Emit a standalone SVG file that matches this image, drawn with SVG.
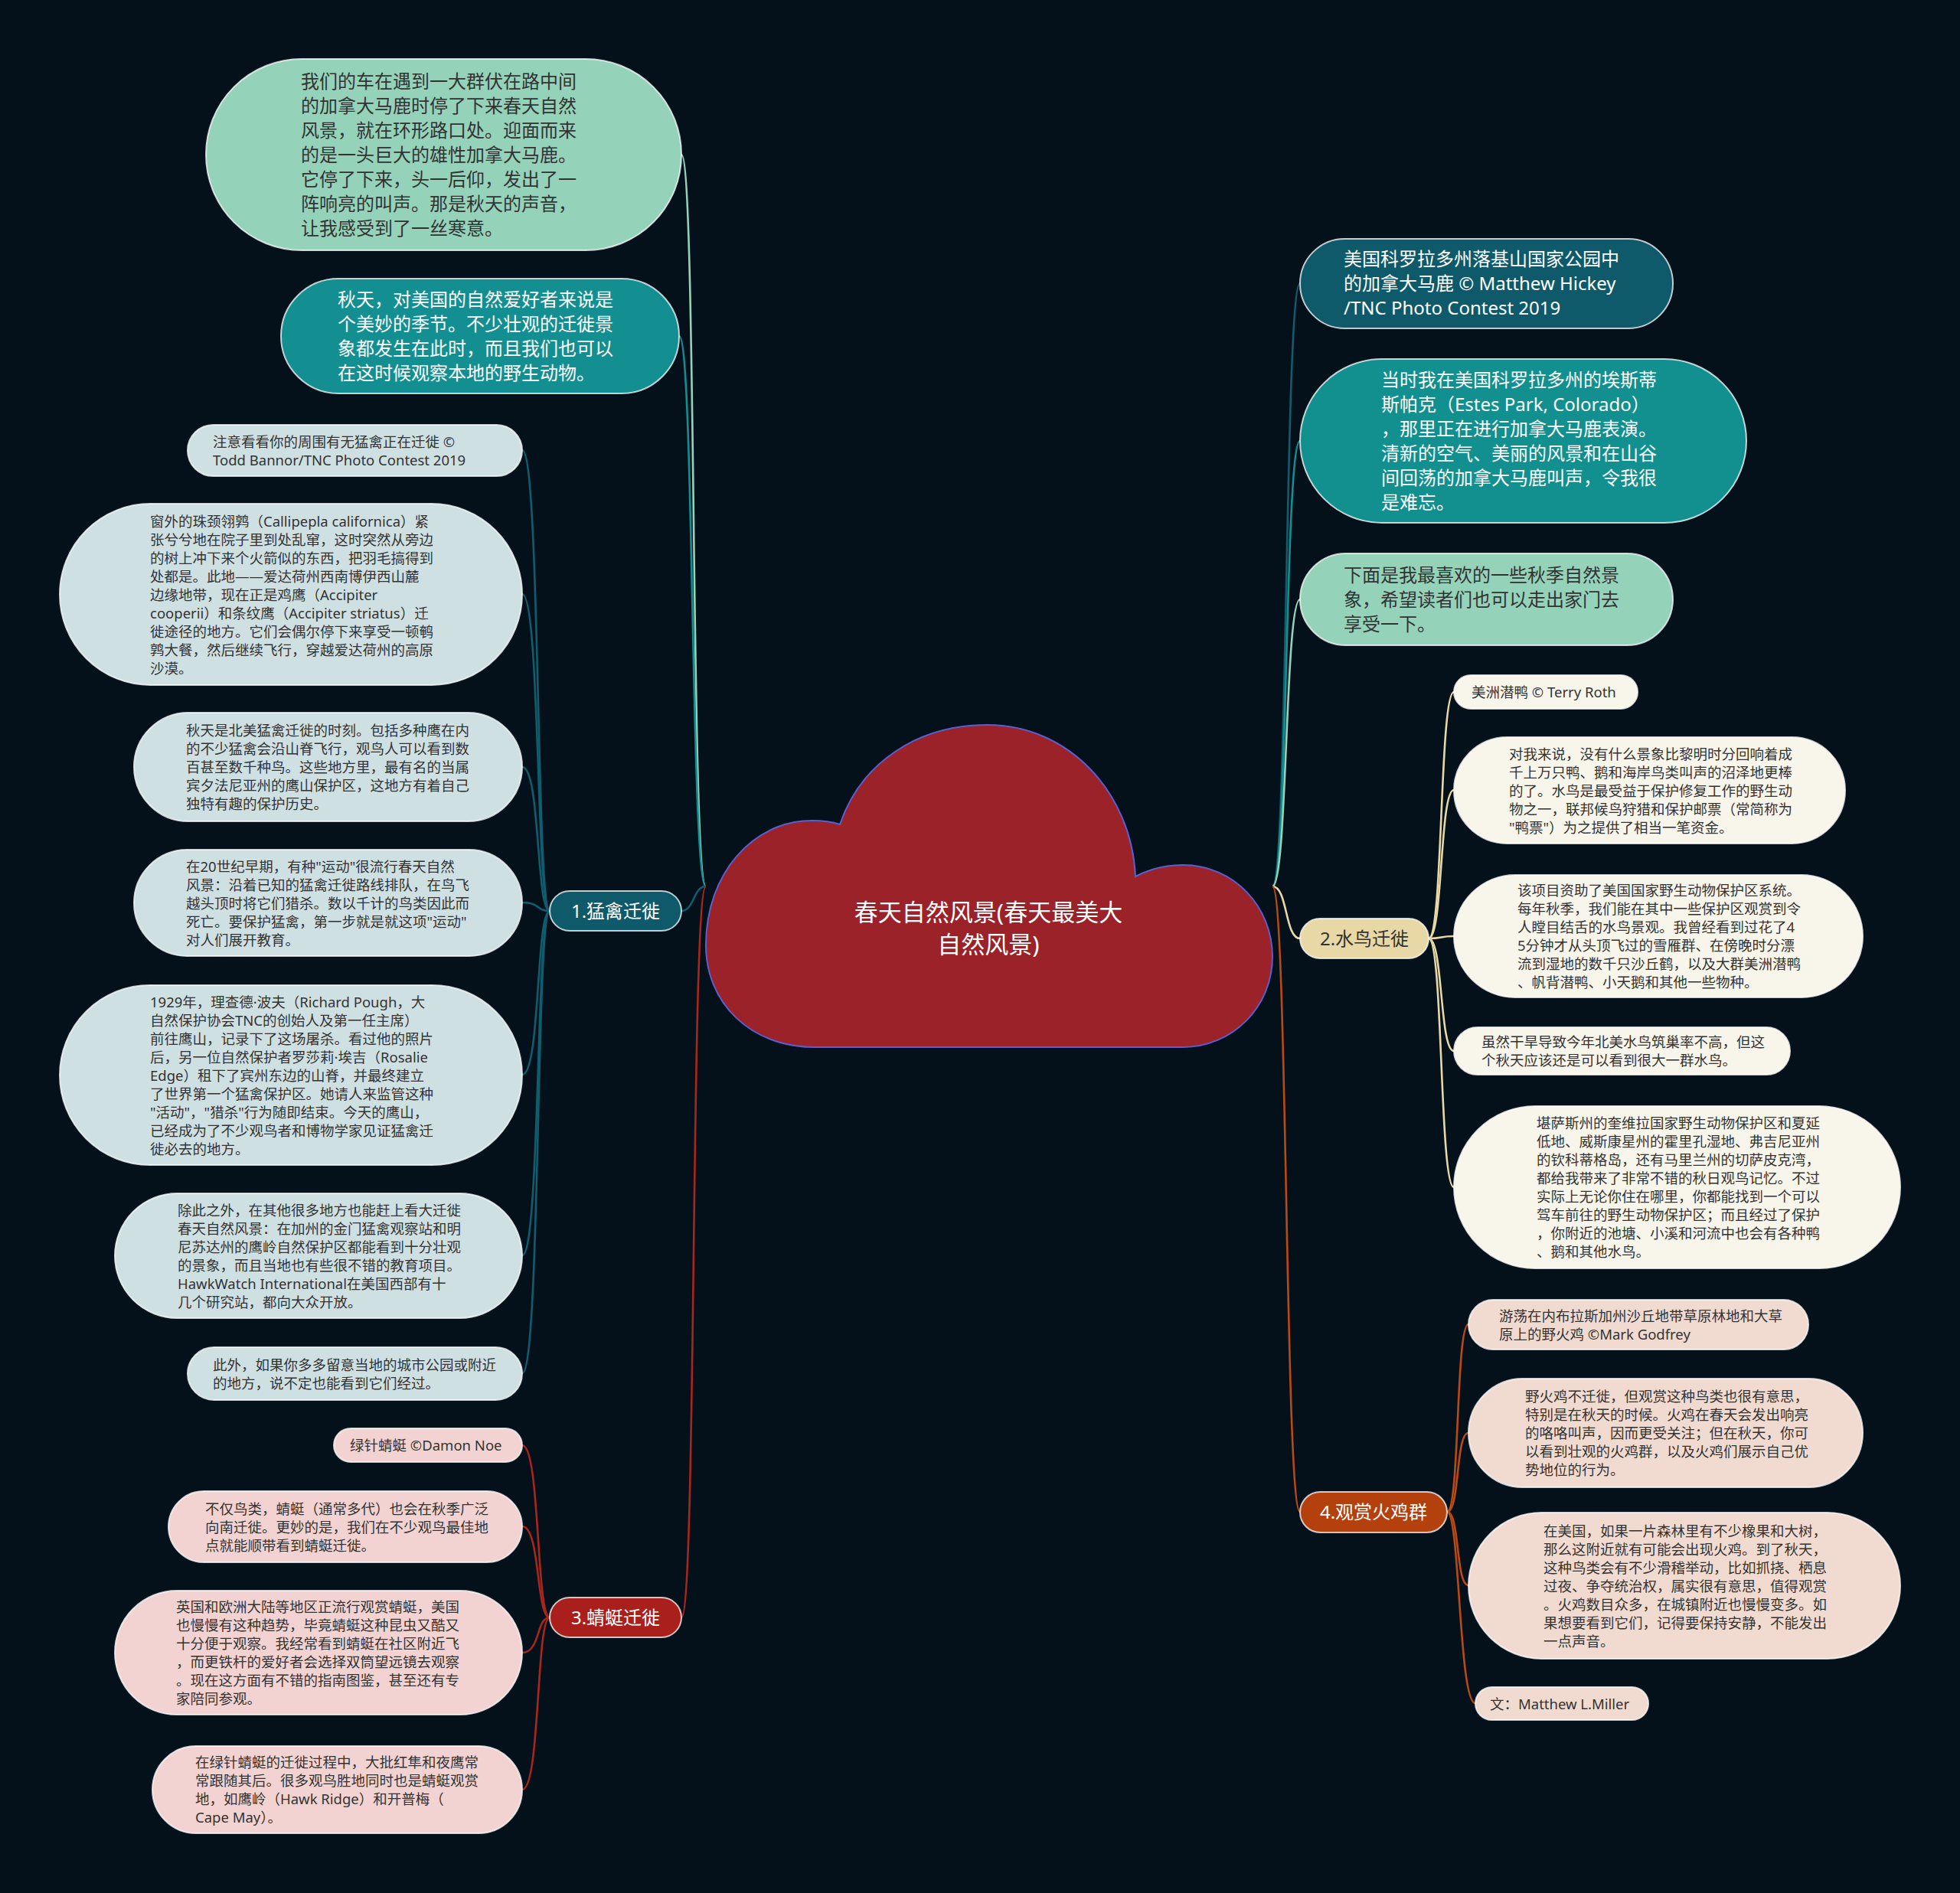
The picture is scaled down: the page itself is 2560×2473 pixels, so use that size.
<svg xmlns="http://www.w3.org/2000/svg" width="2560" height="2473" viewBox="0 0 2560 2473">
<defs>
<style>
.s{font-family:"Noto Sans","Noto Sans CJK SC",sans-serif;font-size:18.5px;fill:#333}
.b{font-family:"Noto Sans","Noto Sans CJK SC",sans-serif;font-size:24px}
.dk{fill:#333}
.wt{fill:#ffffff}
.lbl{font-family:"Noto Sans","Noto Sans CJK SC",sans-serif;font-size:24px;text-anchor:middle}
.node{stroke:#ffffff;stroke-opacity:0.75;stroke-width:2}
.c{fill:none;stroke-width:2.6}
.c1{stroke:#0f5d6d}.c2{stroke:#e8d8a6}.c3{stroke:#a8261c}.c4{stroke:#b84a12}
.cm{stroke:#94d2ba}.ct{stroke:#148f91}
.f1{fill:#cfe0e3}.f2{fill:#f8f5eb}.f3{fill:#f2d3d1}.f4{fill:#f1dbd0}
</style>
</defs>
<rect width="2560" height="2473" fill="#04111b"/>

<g id="connectors">
<path class="c cm" d="M922,1158 C902,1158 910,202 890,202"/>
<path class="c ct" d="M922,1158 C902,1158 907,439 887,439"/>
<path class="c c1" d="M922,1158 C905,1158 907,1190 890,1190"/>
<path class="c c3" d="M922,1158 C902,1158 910,2113 890,2113"/>
<path class="c c1" d="M1662,1158 C1682,1158 1678,370 1698,370"/>
<path class="c ct" d="M1662,1158 C1682,1158 1678,576 1698,576"/>
<path class="c cm" d="M1662,1158 C1682,1158 1678,783 1698,783"/>
<path class="c c2" d="M1662,1158 C1682,1158 1678,1226 1698,1226"/>
<path class="c c4" d="M1662,1158 C1682,1158 1678,1975 1698,1975"/>
<path class="c c1" d="M718,1190 C700,1190 706,588 682,588"/>
<path class="c c1" d="M718,1190 C700,1190 706,776 682,776"/>
<path class="c c1" d="M718,1190 C700,1190 706,1002 682,1002"/>
<path class="c c1" d="M718,1190 C700,1190 706,1179 682,1179"/>
<path class="c c1" d="M718,1190 C700,1190 706,1404 682,1404"/>
<path class="c c1" d="M718,1190 C700,1190 706,1640 682,1640"/>
<path class="c c1" d="M718,1190 C700,1190 706,1794 682,1794"/>
<path class="c c3" d="M718,2113 C700,2113 706,1888 682,1888"/>
<path class="c c3" d="M718,2113 C700,2113 706,1994 682,1994"/>
<path class="c c3" d="M718,2113 C700,2113 706,2159 682,2159"/>
<path class="c c3" d="M718,2113 C700,2113 706,2338 682,2338"/>
<path class="c c2" d="M1866,1226 C1885,1226 1880,904 1899,904"/>
<path class="c c2" d="M1866,1226 C1885,1226 1880,1032 1899,1032"/>
<path class="c c2" d="M1866,1226 C1885,1226 1880,1223 1899,1223"/>
<path class="c c2" d="M1866,1226 C1885,1226 1880,1373 1899,1373"/>
<path class="c c2" d="M1866,1226 C1885,1226 1880,1551 1899,1551"/>
<path class="c c4" d="M1890,1975 C1907,1975 1901,1730 1918,1730"/>
<path class="c c4" d="M1890,1975 C1907,1975 1901,1872 1918,1872"/>
<path class="c c4" d="M1890,1975 C1907,1975 1901,2071 1918,2071"/>
<path class="c c4" d="M1890,1975 C1907,1975 1905,2225 1927,2225"/>
</g>

<g id="root">
<path d="M1064,1368 C980,1368 922,1310 922,1235 C922,1140 985,1072 1060,1072 C1075,1072 1088,1074 1097,1077 C1125,995 1200,947 1290,947 C1395,947 1478,1035 1483,1145 C1502,1135 1522,1130 1545,1130 C1612,1130 1662,1185 1662,1250 C1662,1315 1610,1368 1545,1368 Z" fill="#9b2228" stroke="#5a5fd0" stroke-width="2"/>
<text class="lbl wt" style="font-size:31px" x="1291" y="1203">春天自然风景(春天最美大</text>
<text class="lbl wt" style="font-size:31px" x="1291" y="1245">自然风景)</text>
</g>

<g id="t1">
<rect class="node" x="269" y="77" width="621" height="250" rx="125" fill="#94d2ba"/>
<text class="b dk" x="393" y="115"><tspan x="393">我们的车在遇到一大群伏在路中间</tspan><tspan x="393" dy="32">的加拿大马鹿时停了下来春天自然</tspan><tspan x="393" dy="32">风景，就在环形路口处。迎面而来</tspan><tspan x="393" dy="32">的是一头巨大的雄性加拿大马鹿。</tspan><tspan x="393" dy="32">它停了下来，头一后仰，发出了一</tspan><tspan x="393" dy="32">阵响亮的叫声。那是秋天的声音，</tspan><tspan x="393" dy="32">让我感受到了一丝寒意。</tspan></text>
</g>
<g id="t2">
<rect class="node" x="367" y="364" width="520" height="150" rx="75" fill="#148f91"/>
<text class="b wt" x="441" y="400"><tspan x="441">秋天，对美国的自然爱好者来说是</tspan><tspan x="441" dy="32">个美妙的季节。不少壮观的迁徙景</tspan><tspan x="441" dy="32">象都发生在此时，而且我们也可以</tspan><tspan x="441" dy="32">在这时候观察本地的野生动物。</tspan></text>
</g>

<g id="b1">
<rect class="node" x="718" y="1164" width="172" height="52" rx="26" fill="#0e5a6a"/>
<text class="lbl wt" x="804" y="1199">1.猛禽迁徙</text>
</g>
<g id="b1a">
<rect class="node f1" x="245" y="555" width="437" height="67" rx="33.5"/>
<text class="s" x="278" y="583.5"><tspan x="278">注意看看你的周围有无猛禽正在迁徙 ©</tspan><tspan x="278" dy="24">Todd Bannor/TNC Photo Contest 2019</tspan></text>
</g>
<g id="b1b">
<rect class="node f1" x="78" y="658" width="604" height="237" rx="118.5"/>
<text class="s" x="196" y="687.5"><tspan x="196">窗外的珠颈翎鹑（Callipepla californica）紧</tspan><tspan x="196" dy="24">张兮兮地在院子里到处乱窜，这时突然从旁边</tspan><tspan x="196" dy="24">的树上冲下来个火箭似的东西，把羽毛搞得到</tspan><tspan x="196" dy="24">处都是。此地——爱达荷州西南博伊西山麓</tspan><tspan x="196" dy="24">边缘地带，现在正是鸡鹰（Accipiter</tspan><tspan x="196" dy="24">cooperii）和条纹鹰（Accipiter striatus）迁</tspan><tspan x="196" dy="24">徙途径的地方。它们会偶尔停下来享受一顿鹌</tspan><tspan x="196" dy="24">鹑大餐，然后继续飞行，穿越爱达荷州的高原</tspan><tspan x="196" dy="24">沙漠。</tspan></text>
</g>
<g id="b1c">
<rect class="node f1" x="175" y="931" width="507" height="142" rx="71"/>
<text class="s" x="243" y="961"><tspan x="243">秋天是北美猛禽迁徙的时刻。包括多种鹰在内</tspan><tspan x="243" dy="24">的不少猛禽会沿山脊飞行，观鸟人可以看到数</tspan><tspan x="243" dy="24">百甚至数千种鸟。这些地方里，最有名的当属</tspan><tspan x="243" dy="24">宾夕法尼亚州的鹰山保护区，这地方有着自己</tspan><tspan x="243" dy="24">独特有趣的保护历史。</tspan></text>
</g>
<g id="b1d">
<rect class="node f1" x="175" y="1110" width="507" height="139" rx="69.5"/>
<text class="s" x="243" y="1138.5"><tspan x="243">在20世纪早期，有种"运动"很流行春天自然</tspan><tspan x="243" dy="24">风景：沿着已知的猛禽迁徙路线排队，在鸟飞</tspan><tspan x="243" dy="24">越头顶时将它们猎杀。数以千计的鸟类因此而</tspan><tspan x="243" dy="24">死亡。要保护猛禽，第一步就是就这项"运动"</tspan><tspan x="243" dy="24">对人们展开教育。</tspan></text>
</g>
<g id="b1e">
<rect class="node f1" x="78" y="1287" width="604" height="235" rx="117.5"/>
<text class="s" x="196" y="1315.5"><tspan x="196">1929年，理查德·波夫（Richard Pough，大</tspan><tspan x="196" dy="24">自然保护协会TNC的创始人及第一任主席）</tspan><tspan x="196" dy="24">前往鹰山，记录下了这场屠杀。看过他的照片</tspan><tspan x="196" dy="24">后，另一位自然保护者罗莎莉·埃吉（Rosalie</tspan><tspan x="196" dy="24">Edge）租下了宾州东边的山脊，并最终建立</tspan><tspan x="196" dy="24">了世界第一个猛禽保护区。她请人来监管这种</tspan><tspan x="196" dy="24">"活动"，"猎杀"行为随即结束。今天的鹰山，</tspan><tspan x="196" dy="24">已经成为了不少观鸟者和博物学家见证猛禽迁</tspan><tspan x="196" dy="24">徙必去的地方。</tspan></text>
</g>
<g id="b1f">
<rect class="node f1" x="150" y="1559" width="532" height="163" rx="81.5"/>
<text class="s" x="232" y="1587.5"><tspan x="232">除此之外，在其他很多地方也能赶上看大迁徙</tspan><tspan x="232" dy="24">春天自然风景：在加州的金门猛禽观察站和明</tspan><tspan x="232" dy="24">尼苏达州的鹰岭自然保护区都能看到十分壮观</tspan><tspan x="232" dy="24">的景象，而且当地也有些很不错的教育项目。</tspan><tspan x="232" dy="24">HawkWatch International在美国西部有十</tspan><tspan x="232" dy="24">几个研究站，都向大众开放。</tspan></text>
</g>
<g id="b1g">
<rect class="node f1" x="245" y="1760" width="437" height="69" rx="34.5"/>
<text class="s" x="278" y="1789.5"><tspan x="278">此外，如果你多多留意当地的城市公园或附近</tspan><tspan x="278" dy="24">的地方，说不定也能看到它们经过。</tspan></text>
</g>

<g id="b3">
<rect class="node" x="718" y="2087" width="172" height="52" rx="26" fill="#a81f1c"/>
<text class="lbl wt" x="804" y="2122">3.蜻蜓迁徙</text>
</g>
<g id="b3a">
<rect class="node f3" x="436" y="1866" width="246" height="44" rx="22"/>
<text class="s" x="457" y="1895">绿针蜻蜓 ©Damon Noe</text>
</g>
<g id="b3b">
<rect class="node f3" x="220" y="1948" width="462" height="93" rx="46.5"/>
<text class="s" x="268" y="1977.5"><tspan x="268">不仅鸟类，蜻蜓（通常多代）也会在秋季广泛</tspan><tspan x="268" dy="24">向南迁徙。更妙的是，我们在不少观鸟最佳地</tspan><tspan x="268" dy="24">点就能顺带看到蜻蜓迁徙。</tspan></text>
</g>
<g id="b3c">
<rect class="node f3" x="150" y="2078" width="532" height="162" rx="81"/>
<text class="s" x="230" y="2106"><tspan x="230">英国和欧洲大陆等地区正流行观赏蜻蜓，美国</tspan><tspan x="230" dy="24">也慢慢有这种趋势，毕竟蜻蜓这种昆虫又酷又</tspan><tspan x="230" dy="24">十分便于观察。我经常看到蜻蜓在社区附近飞</tspan><tspan x="230" dy="24">，而更铁杆的爱好者会选择双筒望远镜去观察</tspan><tspan x="230" dy="24">。现在这方面有不错的指南图鉴，甚至还有专</tspan><tspan x="230" dy="24">家陪同参观。</tspan></text>
</g>
<g id="b3d">
<rect class="node f3" x="199" y="2281" width="483" height="114" rx="57"/>
<text class="s" x="255" y="2309"><tspan x="255">在绿针蜻蜓的迁徙过程中，大批红隼和夜鹰常</tspan><tspan x="255" dy="24">常跟随其后。很多观鸟胜地同时也是蜻蜓观赏</tspan><tspan x="255" dy="24">地，如鹰岭（Hawk Ridge）和开普梅（</tspan><tspan x="255" dy="24">Cape May）。</tspan></text>
</g>

<g id="r1">
<rect class="node" x="1698" y="312" width="487" height="117" rx="58.5" fill="#0e5a6a"/>
<text class="b wt" x="1755" y="347"><tspan x="1755">美国科罗拉多州落基山国家公园中</tspan><tspan x="1755" dy="32">的加拿大马鹿 © Matthew Hickey</tspan><tspan x="1755" dy="32">/TNC Photo Contest 2019</tspan></text>
</g>
<g id="r2">
<rect class="node" x="1698" y="469" width="583" height="214" rx="107" fill="#11908f"/>
<text class="b wt" x="1804" y="505"><tspan x="1804">当时我在美国科罗拉多州的埃斯蒂</tspan><tspan x="1804" dy="32">斯帕克（Estes Park, Colorado）</tspan><tspan x="1804" dy="32">，那里正在进行加拿大马鹿表演。</tspan><tspan x="1804" dy="32">清新的空气、美丽的风景和在山谷</tspan><tspan x="1804" dy="32">间回荡的加拿大马鹿叫声，令我很</tspan><tspan x="1804" dy="32">是难忘。</tspan></text>
</g>
<g id="r3">
<rect class="node" x="1698" y="723" width="487" height="120" rx="60" fill="#94d2ba"/>
<text class="b dk" x="1755" y="760"><tspan x="1755">下面是我最喜欢的一些秋季自然景</tspan><tspan x="1755" dy="32">象，希望读者们也可以走出家门去</tspan><tspan x="1755" dy="32">享受一下。</tspan></text>
</g>

<g id="b2">
<rect class="node" x="1698" y="1200" width="168" height="52" rx="26" fill="#e8d8a6"/>
<text class="lbl dk" x="1782" y="1235">2.水鸟迁徙</text>
</g>
<g id="b2a">
<rect class="node f2" x="1899" y="882" width="240" height="44" rx="22"/>
<text class="s" x="1922" y="911">美洲潜鸭 © Terry Roth</text>
</g>
<g id="b2b">
<rect class="node f2" x="1899" y="963" width="511" height="139" rx="69.5"/>
<text class="s" x="1971" y="991.5"><tspan x="1971">对我来说，没有什么景象比黎明时分回响着成</tspan><tspan x="1971" dy="24">千上万只鸭、鹅和海岸鸟类叫声的沼泽地更棒</tspan><tspan x="1971" dy="24">的了。水鸟是最受益于保护修复工作的野生动</tspan><tspan x="1971" dy="24">物之一，联邦候鸟狩猎和保护邮票（常简称为</tspan><tspan x="1971" dy="24">"鸭票"）为之提供了相当一笔资金。</tspan></text>
</g>
<g id="b2c">
<rect class="node f2" x="1899" y="1143" width="534" height="160" rx="80"/>
<text class="s" x="1982" y="1170"><tspan x="1982">该项目资助了美国国家野生动物保护区系统。</tspan><tspan x="1982" dy="24">每年秋季，我们能在其中一些保护区观赏到令</tspan><tspan x="1982" dy="24">人瞠目结舌的水鸟景观。我曾经看到过花了4</tspan><tspan x="1982" dy="24">5分钟才从头顶飞过的雪雁群、在傍晚时分漂</tspan><tspan x="1982" dy="24">流到湿地的数千只沙丘鹤，以及大群美洲潜鸭</tspan><tspan x="1982" dy="24">、帆背潜鸭、小天鹅和其他一些物种。</tspan></text>
</g>
<g id="b2d">
<rect class="node f2" x="1899" y="1342" width="439" height="62" rx="31"/>
<text class="s" x="1935" y="1368"><tspan x="1935">虽然干旱导致今年北美水鸟筑巢率不高，但这</tspan><tspan x="1935" dy="24">个秋天应该还是可以看到很大一群水鸟。</tspan></text>
</g>
<g id="b2e">
<rect class="node f2" x="1899" y="1445" width="583" height="212" rx="106"/>
<text class="s" x="2007" y="1474"><tspan x="2007">堪萨斯州的奎维拉国家野生动物保护区和夏延</tspan><tspan x="2007" dy="24">低地、威斯康星州的霍里孔湿地、弗吉尼亚州</tspan><tspan x="2007" dy="24">的钦科蒂格岛，还有马里兰州的切萨皮克湾，</tspan><tspan x="2007" dy="24">都给我带来了非常不错的秋日观鸟记忆。不过</tspan><tspan x="2007" dy="24">实际上无论你住在哪里，你都能找到一个可以</tspan><tspan x="2007" dy="24">驾车前往的野生动物保护区；而且经过了保护</tspan><tspan x="2007" dy="24">，你附近的池塘、小溪和河流中也会有各种鸭</tspan><tspan x="2007" dy="24">、鹅和其他水鸟。</tspan></text>
</g>

<g id="b4">
<rect class="node" x="1698" y="1949" width="192" height="53" rx="26.5" fill="#b3400d"/>
<text class="lbl wt" x="1794" y="1984">4.观赏火鸡群</text>
</g>
<g id="b4a">
<rect class="node f4" x="1918" y="1698" width="444" height="65" rx="32.5"/>
<text class="s" x="1958" y="1725.5"><tspan x="1958">游荡在内布拉斯加州沙丘地带草原林地和大草</tspan><tspan x="1958" dy="24">原上的野火鸡 ©Mark Godfrey</tspan></text>
</g>
<g id="b4b">
<rect class="node f4" x="1918" y="1801" width="515" height="142" rx="71"/>
<text class="s" x="1992" y="1831"><tspan x="1992">野火鸡不迁徙，但观赏这种鸟类也很有意思，</tspan><tspan x="1992" dy="24">特别是在秋天的时候。火鸡在春天会发出响亮</tspan><tspan x="1992" dy="24">的咯咯叫声，因而更受关注；但在秋天，你可</tspan><tspan x="1992" dy="24">以看到壮观的火鸡群，以及火鸡们展示自己优</tspan><tspan x="1992" dy="24">势地位的行为。</tspan></text>
</g>
<g id="b4c">
<rect class="node f4" x="1918" y="1976" width="564" height="191" rx="95.5"/>
<text class="s" x="2016" y="2006.5"><tspan x="2016">在美国，如果一片森林里有不少橡果和大树，</tspan><tspan x="2016" dy="24">那么这附近就有可能会出现火鸡。到了秋天，</tspan><tspan x="2016" dy="24">这种鸟类会有不少滑稽举动，比如抓挠、栖息</tspan><tspan x="2016" dy="24">过夜、争夺统治权，属实很有意思，值得观赏</tspan><tspan x="2016" dy="24">。火鸡数目众多，在城镇附近也慢慢变多。如</tspan><tspan x="2016" dy="24">果想要看到它们，记得要保持安静，不能发出</tspan><tspan x="2016" dy="24">一点声音。</tspan></text>
</g>
<g id="b4d">
<rect class="node f4" x="1927" y="2204" width="226" height="43" rx="21.5"/>
<text class="s" x="1946" y="2232.5">文：Matthew L.Miller</text>
</g>
</svg>
